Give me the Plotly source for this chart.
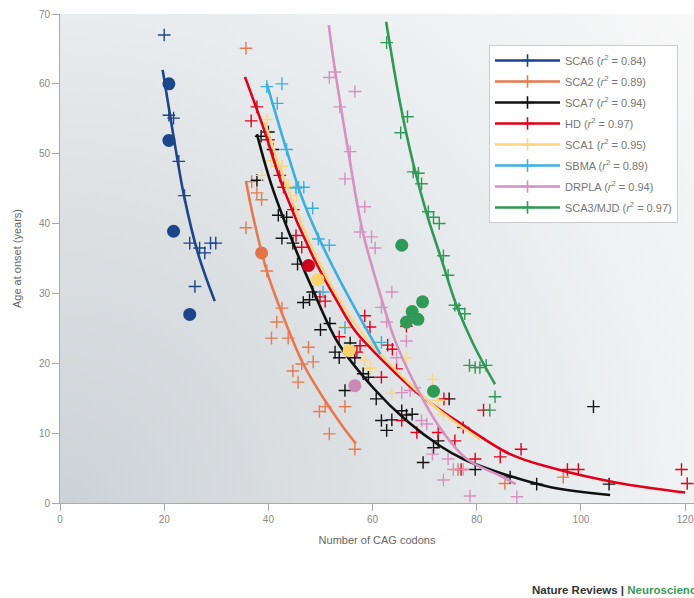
import base64
import plotly.graph_objects as go

# ---------------- data ----------------
sca6_cx = [20.0, 20.9, 21.8, 22.8, 23.9, 24.9, 26.8, 27.8, 28.9, 29.9, 25.9]
sca6_cy = [67.0, 55.5, 55.1, 48.9, 44.0, 37.2, 36.5, 35.8, 37.2, 37.2, 31.0]
sca6_lx = [19.7, 21.7, 23.8, 26.5, 29.7]
sca6_ly = [62.0, 52.9, 44.0, 35.7, 28.9]
sca6_dx = [20.9, 20.9, 21.8, 24.9]
sca6_dy = [60.0, 51.9, 38.9, 27.0]

sca2_cx = [35.7, 36.8, 37.8, 38.7, 35.7, 39.7, 42.6, 41.6, 40.6, 43.8, 47.7, 48.6, 46.4,
           44.7, 45.7, 50.9, 49.8, 54.7, 51.7, 56.6, 85.4, 96.6, 76.4]
sca2_cy = [65.1, 46.0, 44.4, 43.4, 39.4, 33.2, 27.9, 25.9, 23.6, 23.6, 22.3, 20.2, 19.9,
           18.9, 17.3, 13.8, 13.1, 13.8, 9.9, 7.7, 2.8, 3.7, 4.8]
sca2_lx = [35.7, 37.1, 39.7, 42.9, 46.7, 50.5, 54.4, 56.8]
sca2_ly = [46.1, 40.9, 33.2, 26.6, 19.9, 15.1, 10.8, 8.5]
sca2_dx = [38.7]
sca2_dy = [35.8]

sca7_cx = [38.6, 40.0, 37.8, 40.9, 41.9, 43.5, 42.6, 44.7, 45.6, 46.7, 47.9, 48.5, 50.0,
           51.8, 55.7, 52.8, 53.6, 56.6, 58.2, 59.2, 54.7, 60.7, 61.7, 63.7, 62.7, 65.6,
           66.5, 67.6, 72.6, 71.7, 69.7, 74.7, 79.7, 102.4, 86.4, 91.5, 105.4]
sca7_cy = [52.5, 53.1, 46.2, 50.6, 41.2, 40.9, 37.9, 37.2, 34.2, 28.7, 29.1, 30.2, 24.8,
           25.7, 22.9, 21.6, 20.8, 20.8, 18.5, 18.0, 16.1, 14.9, 11.8, 11.9, 10.4, 13.2,
           12.6, 12.7, 8.9, 7.9, 5.8, 14.9, 4.8, 13.8, 3.7, 2.7, 2.7]
sca7_lx = [37.8, 40.6, 44.8, 48.6, 53.4, 60.1, 66.5, 72.9, 77.4, 84.5, 94.0, 105.6]
sca7_ly = [52.8, 45.5, 37.1, 30.4, 22.9, 16.5, 11.8, 8.2, 6.3, 4.3, 2.3, 1.15]

hd_cx = [37.8, 36.7, 40.0, 42.2, 42.9, 44.8, 45.3, 46.4, 49.9, 50.9, 58.5, 59.5, 53.6,
         57.0, 57.6, 62.9, 63.8, 66.5, 61.7, 64.6, 65.6, 68.5, 72.6, 73.7, 77.4, 75.8,
         79.7, 81.3, 84.5, 88.5, 97.4, 99.5, 119.3, 120.4, 77.0]
hd_cy = [56.7, 54.7, 52.0, 46.9, 45.2, 42.0, 38.3, 36.6, 29.5, 28.9, 26.8, 25.2, 23.8,
         21.6, 22.5, 22.6, 22.0, 25.3, 18.0, 19.2, 11.8, 10.1, 10.1, 14.9, 10.8, 8.9,
         6.3, 13.3, 6.6, 7.7, 4.8, 4.8, 4.8, 2.8, 4.8]
hd_lx = [35.5, 39.0, 42.9, 48.6, 53.1, 56.6, 63.3, 69.7, 78.1, 86.4, 94.0, 106.9, 120.0]
hd_ly = [61.0, 53.8, 45.0, 35.2, 29.0, 24.7, 19.4, 15.1, 10.8, 7.0, 5.1, 2.9, 1.5]
hd_dx = [47.7]
hd_dy = [34.0]

sca1_cx = [39.7, 38.7, 41.6, 42.6, 40.6, 43.8, 45.4, 48.6, 50.5, 54.7, 58.5, 59.6, 63.7,
           66.5, 71.5, 72.6, 73.6]
sca1_cy = [54.9, 46.9, 48.2, 48.2, 49.0, 45.3, 44.0, 35.7, 32.8, 25.2, 20.5, 19.3, 15.7,
           20.8, 17.7, 14.7, 12.7]
sca1_lx = [39.3, 43.8, 49.2, 53.7, 57.6, 66.5, 72.9, 80.6]
sca1_ly = [54.5, 44.8, 35.2, 29.0, 24.7, 17.5, 13.2, 9.1]
sca1_dx = [49.5, 55.5]
sca1_dy = [32.0, 21.8]

sbma_cx = [39.7, 42.6, 41.7, 43.5, 45.3, 45.8, 46.8, 48.5, 49.6, 51.7, 50.5, 54.7, 61.7]
sbma_cy = [59.6, 60.0, 57.2, 50.6, 45.1, 45.2, 45.2, 42.2, 37.8, 36.9, 30.2, 25.1, 23.0]
sbma_lx = [39.7, 43.5, 46.4, 49.6, 53.7, 61.5]
sbma_ly = [60.0, 50.5, 43.8, 38.1, 31.9, 21.3]

drpla_cx = [52.8, 51.7, 56.6, 53.7, 55.7, 54.7, 58.5, 57.6, 59.8, 60.5, 63.7, 61.7, 62.7,
            66.5, 64.6, 68.1, 65.6, 69.4, 70.4, 71.5, 74.5, 75.5, 77.4, 73.6, 78.7, 87.7, 67.2]
drpla_cy = [61.7, 60.9, 58.9, 56.7, 50.3, 46.4, 42.4, 38.8, 38.1, 36.5, 30.2, 28.0, 25.9,
            23.2, 20.8, 16.5, 15.8, 11.8, 11.3, 7.0, 6.3, 4.8, 4.8, 3.3, 1.0, 0.9, 16.1]
drpla_lx = [51.6, 52.5, 55.3, 58.0, 60.5, 64.2, 67.8, 72.9, 78.1, 84.5, 87.5]
drpla_ly = [68.4, 63.4, 50.5, 39.2, 32.3, 23.5, 17.5, 10.8, 6.3, 3.9, 2.7]
drpla_dx = [56.6]
drpla_dy = [16.8]

sca3_cx = [62.7, 66.7, 65.4, 67.8, 68.8, 69.4, 70.7, 71.7, 72.8, 73.6, 74.5, 75.8, 76.6,
           77.7, 78.6, 79.7, 80.6, 81.8, 83.5, 82.5]
sca3_cy = [65.9, 55.3, 53.0, 47.4, 47.2, 45.7, 41.7, 40.9, 40.0, 35.4, 32.6, 28.3, 27.8,
           27.1, 19.7, 19.4, 19.4, 19.7, 15.2, 13.3]
sca3_lx = [62.6, 65.3, 67.8, 70.4, 73.3, 76.1, 79.3, 83.5]
sca3_ly = [68.9, 57.2, 48.6, 41.4, 34.7, 28.3, 22.8, 17.0]
sca3_dx = [65.6, 69.6, 67.6, 68.7, 66.5, 71.7]
sca3_dy = [36.9, 28.8, 27.4, 26.3, 25.9, 16.0]

names = ["SCA6", "SCA2", "SCA7", "HD", "SCA1", "SBMA", "DRPLA", "SCA3/MJD"]
r2 = ["0.84", "0.89", "0.94", "0.97", "0.95", "0.89", "0.94", "0.97"]

x_ticks = [0, 20, 40, 60, 80, 100, 120]
y_ticks = [0, 10, 20, 30, 40, 50, 60, 70]

# ---------------- styling ----------------
colors = ["#1d4589", "#e8784d", "#111111", "#e2001a", "#fdd57e", "#3bb0e0", "#d591bf", "#2e9a55"]
dot_colors = ["#1d4589", "#e5734a", None, "#d0021b", "#fbd36a", None, "#c98ab5", "#2e9a55"]
FONT = "Liberation Sans, Arial, sans-serif"

series = [
    (sca6_cx, sca6_cy, sca6_lx, sca6_ly, sca6_dx, sca6_dy),
    (sca2_cx, sca2_cy, sca2_lx, sca2_ly, sca2_dx, sca2_dy),
    (sca7_cx, sca7_cy, sca7_lx, sca7_ly, [], []),
    (hd_cx, hd_cy, hd_lx, hd_ly, hd_dx, hd_dy),
    (sca1_cx, sca1_cy, sca1_lx, sca1_ly, sca1_dx, sca1_dy),
    (sbma_cx, sbma_cy, sbma_lx, sbma_ly, [], []),
    (drpla_cx, drpla_cy, drpla_lx, drpla_ly, drpla_dx, drpla_dy),
    (sca3_cx, sca3_cy, sca3_lx, sca3_ly, sca3_dx, sca3_dy),
]

fig = go.Figure()

# crosses
for i, (cx, cy, lx, ly, dx, dy) in enumerate(series):
    fig.add_trace(go.Scatter(x=cx, y=cy, mode="markers", showlegend=False, hoverinfo="skip",
                             marker=dict(symbol="cross-thin", size=9,
                                         line=dict(color=colors[i], width=1.4))))
# fit lines
for i, (cx, cy, lx, ly, dx, dy) in enumerate(series):
    fig.add_trace(go.Scatter(x=lx, y=ly, mode="lines", showlegend=False, hoverinfo="skip",
                             line=dict(color=colors[i], width=2.6, shape="spline", smoothing=1.0)))
# filled dots
for i, (cx, cy, lx, ly, dx, dy) in enumerate(series):
    if dx:
        fig.add_trace(go.Scatter(x=dx, y=dy, mode="markers", showlegend=False, hoverinfo="skip",
                                 marker=dict(symbol="circle", size=13, color=dot_colors[i])))
# legend entries
for i, n in enumerate(names):
    fig.add_trace(go.Scatter(x=[None], y=[None], mode="lines+markers", legendgroup=n,
                             name=f"{n} (<i>r</i><sup>2</sup> = {r2[i]})",
                             line=dict(color=colors[i], width=2.6),
                             marker=dict(symbol="cross-thin", size=9,
                                         line=dict(color=colors[i], width=1.6))))

svg = ("<svg xmlns='http://www.w3.org/2000/svg' width='634' height='489' viewBox='0 0 634 489' "
       "preserveAspectRatio='none'><defs><radialGradient id='g' gradientUnits='userSpaceOnUse' "
       "cx='0' cy='489' r='820'>"
       "<stop offset='0' stop-color='#cdd2d6'/><stop offset='0.37' stop-color='#dde1e4'/>"
       "<stop offset='0.6' stop-color='#e9ecee'/><stop offset='1' stop-color='#f9f9f9'/>"
       "</radialGradient></defs><rect width='634' height='489' fill='url(#g)'/></svg>")
src = "data:image/svg+xml;base64," + base64.b64encode(svg.encode()).decode()

fig.update_layout(
    width=694, height=598,
    margin=dict(l=60, r=0, t=14, b=95, autoexpand=False),
    paper_bgcolor="white", plot_bgcolor="rgba(0,0,0,0)",
    font=dict(family=FONT, color="#777777", size=10),
    images=[dict(source=src, xref="paper", yref="paper", x=0, y=1, sizex=1, sizey=1,
                 sizing="stretch", layer="below")],
    legend=dict(x=(489 - 60) / 634, y=(503 - 45) / 489, xanchor="left", yanchor="top",
                bgcolor="white", bordercolor="#cccccc", borderwidth=1,
                font=dict(family=FONT, size=11, color="#777777"), itemwidth=65,
                tracegroupgap=2),
    showlegend=True,
    xaxis=dict(range=[0, 121.7], tickvals=x_ticks, showgrid=False, zeroline=False,
               automargin=False, ticklabeloverflow="allow",
               showline=True, linecolor="#aaaaaa", linewidth=1, ticks="outside", ticklen=7,
               tickcolor="#aaaaaa", tickfont=dict(family=FONT, size=10, color="#888888"),
               title=dict(text="Number of CAG codons",
                          font=dict(family=FONT, size=11, color="#666666"), standoff=12)),
    yaxis=dict(range=[0, 70], tickvals=y_ticks, showgrid=False, zeroline=False,
               automargin=False, ticklabeloverflow="allow",
               showline=True, linecolor="#aaaaaa", linewidth=1, ticks="outside", ticklen=7,
               tickcolor="#aaaaaa", tickfont=dict(family=FONT, size=10, color="#888888"),
               title=dict(text="Age at onset (years)",
                          font=dict(family=FONT, size=11, color="#666666"), standoff=15)),
    annotations=[dict(xref="paper", yref="paper", x=(530 - 60) / 634, y=(503 - 590) / 489,
                      xanchor="left", yanchor="middle", showarrow=False,
                      text="<b>Nature Reviews | <span style='color:#3a9a55'>Neuroscience</span></b>",
                      font=dict(family=FONT, size=11.5, color="#333333"))],
)

fig.write_html("out.html", config={"displayModeBar": False},
               post_script="document.body.style.margin='0';")
